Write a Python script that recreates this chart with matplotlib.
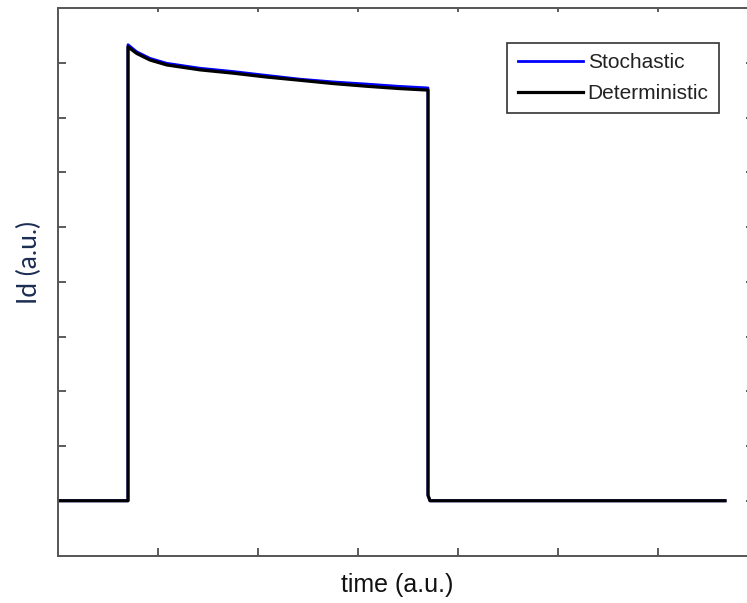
import numpy as np
import matplotlib.pyplot as plt

# values (arbitrary units)
t_stoch = [0, 0.70, 0.70, 0.787, 0.92, 1.087, 1.42, 1.75, 2.08, 2.42, 2.75, 3.09, 3.40, 3.70, 3.70, 3.72, 6.67]
id_stoch = [0, 0, 8.33, 8.20, 8.08, 7.99, 7.90, 7.84, 7.77, 7.70, 7.65, 7.61, 7.57, 7.54, 0.1, 0, 0]

t_det = [0, 0.70, 0.70, 0.787, 0.92, 1.087, 1.42, 1.75, 2.08, 2.42, 2.75, 3.09, 3.40, 3.70, 3.70, 3.72, 6.67]
id_det = [0, 0, 8.29, 8.17, 8.05, 7.96, 7.87, 7.81, 7.74, 7.68, 7.62, 7.57, 7.53, 7.50, 0.1, 0, 0]

x_ticks = [1, 2, 3, 4, 5, 6, 7]
y_ticks = [0, 1, 2, 3, 4, 5, 6, 7, 8]

fig = plt.figure(figsize=(7.47, 6.03), dpi=100)
ax = fig.add_axes([58 / 747, 47.5 / 603, 700 / 747, 547.5 / 603])

ax.plot(t_stoch, id_stoch, color='#0000ff', lw=2, label='Stochastic')
ax.plot(t_det, id_det, color='black', lw=2.3, label='Deterministic')

ax.set_xlim(0, 7)
ax.set_ylim(-1, 9)
ax.set_xticks(x_ticks)
ax.set_yticks(y_ticks)
ax.set_xticklabels([])
ax.set_yticklabels([])

for s in ax.spines.values():
    s.set_color('#555555')
    s.set_linewidth(1.4)

ax.tick_params(direction='in', length=6, width=1.2, color='#404040',
               top=True, right=True)
for t in ax.xaxis.get_major_ticks():
    t.tick2line.set_markersize(3)
for t in ax.yaxis.get_major_ticks():
    t.tick2line.set_markersize(9)
    t.tick2line.set_color('#d8d8d8')

fig.text(397 / 747, 1 - 585 / 603, 'time (a.u.)', ha='center', va='center',
         fontsize=18, family='Liberation Sans', color='#111111')
fig.text(29 / 747, 1 - 262 / 603, 'Id (a.u.)', ha='center', va='center',
         rotation=90, fontsize=19, family='Lato', color='#1b2d52')

leg = ax.legend(loc='upper right', bbox_to_anchor=(719 / 747, 1 - 43 / 603),
                bbox_transform=fig.transFigure, borderaxespad=0,
                fancybox=False, framealpha=1, edgecolor='#333333',
                prop={'family': 'Liberation Sans', 'size': 15},
                handlelength=3.1, handletextpad=0.25, borderpad=0.5,
                labelspacing=0.55)
leg.get_frame().set_linewidth(1.2)
for txt in leg.get_texts():
    txt.set_color('#222222')

fig.savefig('out.png', dpi=100)
